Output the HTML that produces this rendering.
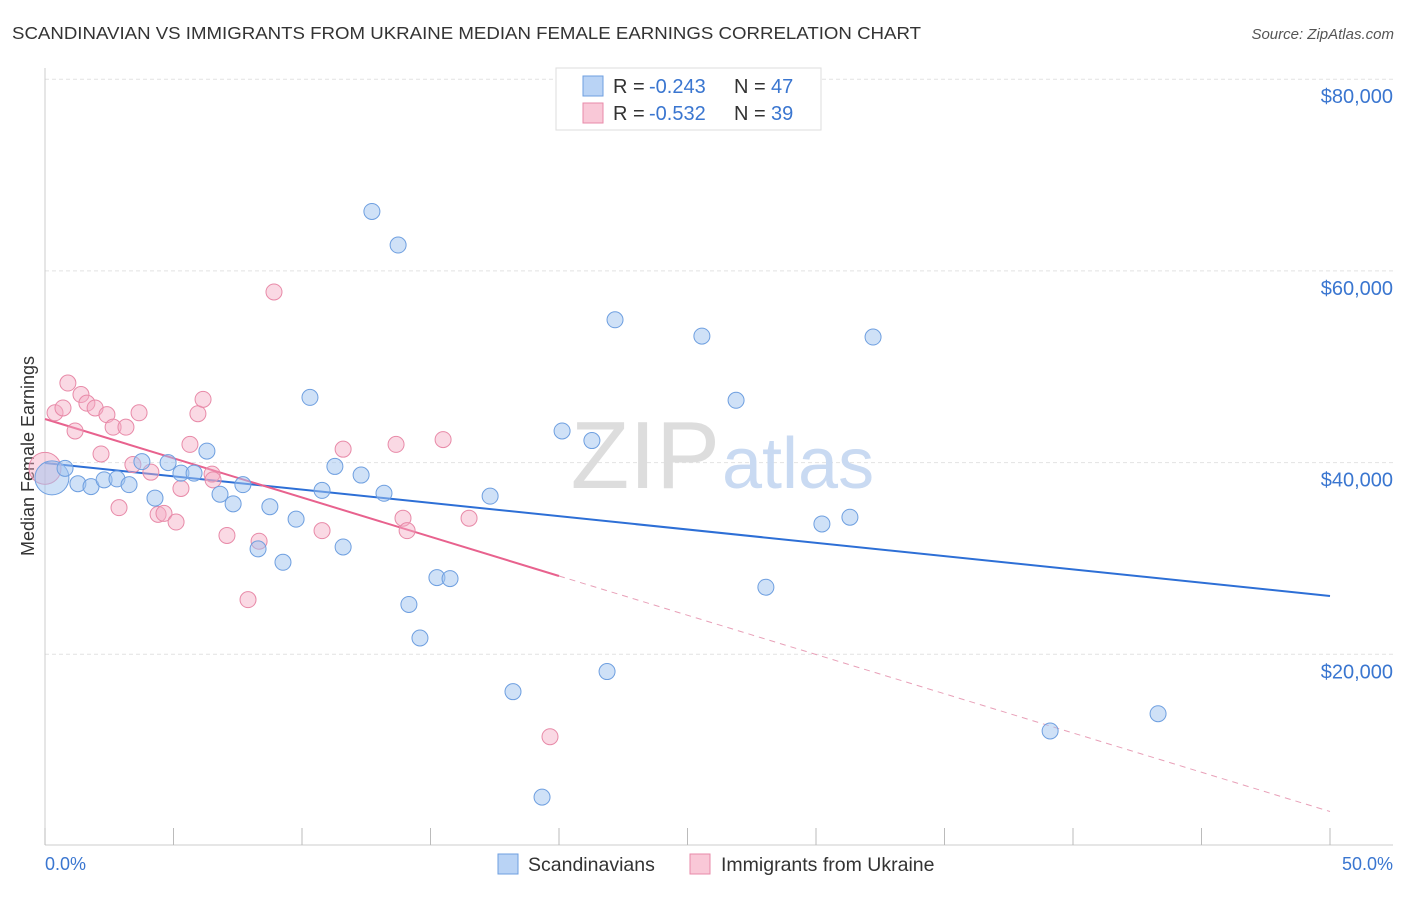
<!DOCTYPE html>
<html><head><meta charset="utf-8"><style>
body{margin:0;background:#fff;font-family:"Liberation Sans",sans-serif;}
svg text{font-family:"Liberation Sans",sans-serif;}
</style></head><body>
<svg id="chart" width="1406" height="892" xmlns="http://www.w3.org/2000/svg">
<text x="12" y="39" font-size="17.5" fill="#333" textLength="909" lengthAdjust="spacingAndGlyphs">SCANDINAVIAN VS IMMIGRANTS FROM UKRAINE MEDIAN FEMALE EARNINGS CORRELATION CHART</text>
<text x="1394" y="39" font-size="15" fill="#555" text-anchor="end" font-style="italic">Source: ZipAtlas.com</text>
<g id="grid"></g>
<text x="720" y="488" font-size="96" fill="#ddd" text-anchor="end" font-family="Liberation Serif">ZIP</text>
<text x="722" y="488" font-size="72" fill="#c9daf2">atlas</text>
<line x1="45" y1="68" x2="45" y2="845" stroke="#ccc"/>
<line x1="45" y1="845" x2="1393" y2="845" stroke="#ccc"/>
<g id="xticks"></g>
<g id="ylabels"></g>
<text x="45" y="870" font-size="18" fill="#3a76d0">0.0%</text>
<text x="1393" y="870" font-size="18" fill="#3a76d0" text-anchor="end">50.0%</text>
<text transform="translate(34,456) rotate(-90)" font-size="18" fill="#333" text-anchor="middle">Median Female Earnings</text>
<g id="lines"></g>
<g id="pts"></g>
<g>
<rect x="556" y="68" width="265" height="62" fill="#fff" stroke="#ddd"/>
<rect x="583" y="76" width="20" height="20" fill="#b9d3f5" stroke="#6e9fe0"/>
<rect x="583" y="103" width="20" height="20" fill="#f9c8d7" stroke="#e88aa8"/>
<text x="613" y="93" font-size="20" fill="#333">R =</text>
<text x="649" y="93" font-size="20" fill="#3a76d0">-0.243</text>
<text x="734" y="93" font-size="20" fill="#333">N =</text>
<text x="771" y="93" font-size="20" fill="#3a76d0">47</text>
<text x="613" y="120" font-size="20" fill="#333">R =</text>
<text x="649" y="120" font-size="20" fill="#3a76d0">-0.532</text>
<text x="734" y="120" font-size="20" fill="#333">N =</text>
<text x="771" y="120" font-size="20" fill="#3a76d0">39</text>
</g>
<g>
<rect x="498" y="854" width="20" height="20" fill="#b9d3f5" stroke="#6e9fe0"/>
<text x="528" y="871" font-size="19.5" fill="#333">Scandinavians</text>
<rect x="690" y="854" width="20" height="20" fill="#f9c8d7" stroke="#e88aa8"/>
<text x="721" y="871" font-size="19.5" fill="#333">Immigrants from Ukraine</text>
</g>
</svg>
<script>
const blueX=[0.27,0.78,1.28,1.79,2.30,2.80,3.27,3.77,4.28,4.79,5.29,5.80,6.30,6.81,7.32,7.70,8.29,8.75,9.26,9.77,10.31,10.78,11.28,11.60,12.30,12.72,13.19,13.74,14.16,14.59,15.25,15.76,17.32,18.21,19.34,20.12,21.28,21.87,22.18,25.56,26.89,28.05,30.23,31.32,32.22,39.11,43.31];
const blueY=[38400,39400,37800,37500,38200,38300,37700,40100,36300,40000,38900,38900,41200,36700,35700,37700,31000,35400,29600,34100,46800,37100,39600,31200,38700,66200,36800,62700,25200,21700,28000,27900,36500,16100,5100,43300,42300,18200,54900,53200,46500,27000,33600,34300,53100,12000,13800];
const pinkX=[0,0.39,0.70,0.89,1.17,1.40,1.63,1.95,2.18,2.41,2.65,2.88,3.15,3.42,3.66,4.12,4.40,4.63,5.10,5.29,5.64,5.95,6.15,6.50,6.54,7.08,7.90,8.33,8.91,10.78,11.60,13.66,13.93,14.09,15.49,16.50,19.65];
const pinkY=[39400,45200,45700,48300,43300,47100,46200,45700,40900,45000,43700,35300,43700,39800,45200,39000,34600,34700,33800,37300,41900,45100,46600,38800,38200,32400,25700,31800,57800,32900,41400,41900,34200,32900,42400,34200,11400];
const yTicks=[20000,40000,60000,80000];
const yTickLabels=["$20,000","$40,000","$60,000","$80,000"];
const xTicks=[0,5,10,15,20,25,30,35,40,45,50];
const blueTrend=[39958,-277.5];
const pinkTrend=[44550,-819];
const NS="http://www.w3.org/2000/svg";
const sx=v=>45+v*25.7;
const sy=v=>846-v/104.33;
function mk(t,a,p){const e=document.createElementNS(NS,t);for(const k in a)e.setAttribute(k,a[k]);p.appendChild(e);return e;}
const grid=document.getElementById('grid'),yl=document.getElementById('ylabels');
yTicks.forEach((t,i)=>{
 const l=mk('line',{x1:45,x2:1393,y1:sy(t),y2:sy(t),stroke:'#e2e2e2','stroke-dasharray':'4,3'},grid);
 
 
 const tx=mk('text',{x:1393,y:sy(t)+24,'font-size':20,fill:'#3a76d0','text-anchor':'end'},yl);
 tx.textContent=yTickLabels[i];
 
 
});
const xt=document.getElementById('xticks');
xTicks.forEach(t=>{const l=mk('line',{x1:sx(t),x2:sx(t),y1:828,y2:845,stroke:'#bbb'},xt);
 
 });
const lines=document.getElementById('lines');
const bl=mk('line',{x1:sx(0),y1:sy(blueTrend[0]),x2:sx(50),y2:sy(blueTrend[0]+blueTrend[1]*50),stroke:'#2d6fd6','stroke-width':2},lines);


const pl=mk('line',{x1:sx(0),y1:sy(pinkTrend[0]),x2:sx(20),y2:sy(pinkTrend[0]+pinkTrend[1]*20),stroke:'#e8628e','stroke-width':2},lines);


const pd=mk('line',{x1:sx(20),y1:sy(pinkTrend[0]+pinkTrend[1]*20),x2:sx(50),y2:sy(pinkTrend[0]+pinkTrend[1]*50),stroke:'#e8a0b8','stroke-width':1,'stroke-dasharray':'6,5'},lines);


const pts=document.getElementById('pts');
pinkX.forEach((x,i)=>{const c=mk('circle',{cx:sx(x),cy:sy(pinkY[i]),r:i==0?16:8,fill:'rgba(244,170,195,0.45)',stroke:'#e88aa8','stroke-width':1},pts);
 
 });
blueX.forEach((x,i)=>{const c=mk('circle',{cx:sx(x),cy:sy(blueY[i]),r:i==0?17:8,fill:'rgba(160,195,240,0.5)',stroke:'#6e9fe0','stroke-width':1},pts);
 
 });
</script>
</body></html>
